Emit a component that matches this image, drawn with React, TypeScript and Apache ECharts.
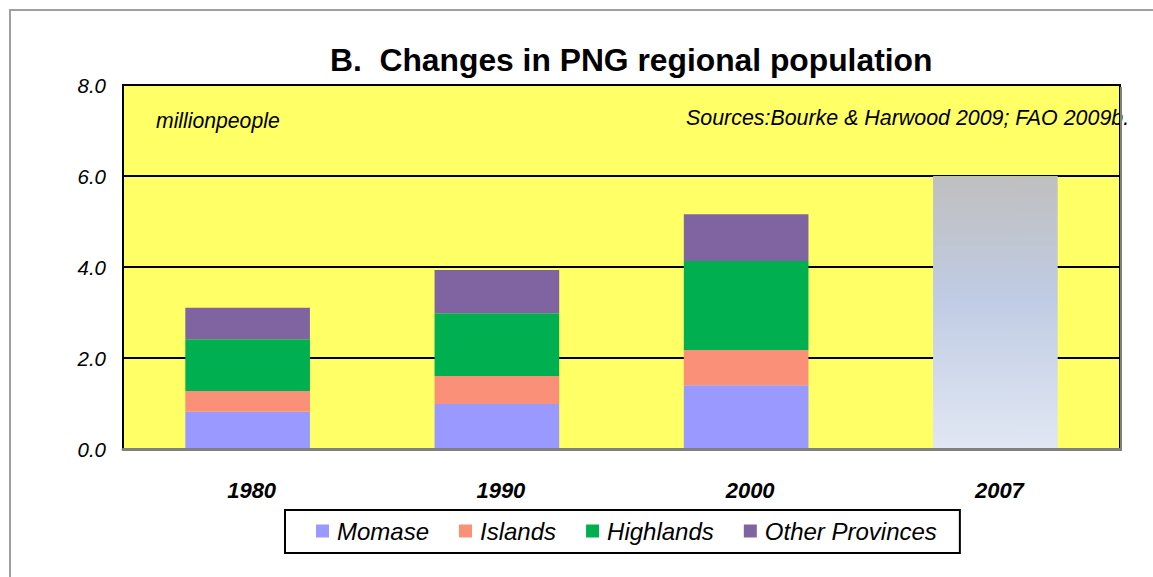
import React, { useEffect, useRef } from "react";
import * as echarts from "echarts";

const categories = ["1980", "1990", "2000", "2007"];
const momase = [0.82, 0.99, 1.4, "-"];
const islands = [0.455, 0.615, 0.776, "-"];
const highlands = [1.135, 1.378, 1.956, "-"];
const otherProvinces = [0.695, 0.952, 1.026, "-"];
const total2007 = ["-", "-", "-", 6.0];
const yTicks = { min: 0, max: 8, interval: 2 };

const FONT = '"Liberation Sans", Arial, sans-serif';

export default function App() {
  const ref = useRef<HTMLDivElement>(null);
  useEffect(() => {
    if (!ref.current) return;
    const chart = echarts.init(ref.current, null, { renderer: "svg" });
    const barBase = { type: "bar", stack: "pop", barWidth: "50%" };
    chart.setOption({
      animation: false,
      backgroundColor: "#ffffff",
      textStyle: { fontFamily: FONT },
      title: {
        text: "B.  Changes in PNG regional population",
        left: 330,
        top: 44,
        padding: 0,
        textStyle: { fontFamily: FONT, fontSize: 31.8, fontWeight: "bold", color: "#000" },
      },
      grid: {
        left: 123,
        right: 33,
        top: 85,
        bottom: 128,
        show: true,
        backgroundColor: "#FFFF66",
        borderColor: "#000",
        borderWidth: 2,
      },
      legend: {
        data: ["Momase", "Islands", "Highlands", "Other Provinces"],
        left: 285,
        top: 510,
        padding: [6, 23, 7, 31],
        itemWidth: 13,
        itemHeight: 13,
        itemGap: 30,
        icon: "rect",
        borderColor: "#000",
        borderWidth: 2,
        backgroundColor: "#fff",
        textStyle: {
          fontFamily: FONT,
          fontSize: 24,
          lineHeight: 24,
          fontStyle: "italic",
          color: "#000",
          padding: [6, 0, 0, 3],
        },
      },
      xAxis: {
        type: "category",
        data: categories,
        axisLine: { show: true, lineStyle: { color: "#808080", width: 3 } },
        axisTick: { show: false },
        axisLabel: {
          margin: 30,
          fontFamily: FONT,
          fontSize: 22,
          fontWeight: "bold",
          fontStyle: "italic",
          color: "#000",
          padding: [0, 0, 0, 8],
        },
        z: 5,
      },
      yAxis: {
        type: "value",
        min: yTicks.min,
        max: yTicks.max,
        interval: yTicks.interval,
        axisLine: { show: false },
        axisTick: { show: false },
        splitLine: { show: true, lineStyle: { color: "#000", width: 2 } },
        axisLabel: {
          margin: 17,
          fontFamily: FONT,
          fontSize: 20.5,
          fontStyle: "italic",
          color: "#000",
          padding: [6, 0, 0, 0],
          formatter: (v: number) => v.toFixed(1),
        },
      },
      series: [
        { ...barBase, name: "Momase", data: momase, itemStyle: { color: "#9999FF" } },
        { ...barBase, name: "Islands", data: islands, itemStyle: { color: "#F99077" } },
        { ...barBase, name: "Highlands", data: highlands, itemStyle: { color: "#00B050" } },
        { ...barBase, name: "Other Provinces", data: otherProvinces, itemStyle: { color: "#8064A2" } },
        {
          ...barBase,
          name: "Total",
          data: total2007,
          itemStyle: {
            color: new echarts.graphic.LinearGradient(0, 0, 0, 1, [
              { offset: 0, color: "#BFBFBF" },
              { offset: 0.45, color: "#C0CCE4" },
              { offset: 1, color: "#E1E7F3" },
            ]),
          },
        },
      ],
      graphic: [
        {
          type: "rect",
          shape: { x: 10, y: 10, width: 1300, height: 700 },
          style: { fill: "none", stroke: "#A0A0A0", lineWidth: 2 },
          silent: true,
        },
        {
          type: "line",
          shape: { x1: 1121, y1: 87, x2: 1121, y2: 451 },
          style: { stroke: "#808080", lineWidth: 2 },
          silent: true,
          z: 20,
        },
        {
          type: "text",
          x: 156,
          y: 120,
          style: {
            text: "millionpeople",
            font: `italic 21.2px ${FONT}`,
            fill: "#000",
            verticalAlign: "middle",
          },
          z: 10,
        },
        {
          type: "text",
          x: 686,
          y: 118,
          style: {
            text: "Sources:Bourke & Harwood 2009; FAO 2009b.",
            font: `italic 21.4px ${FONT}`,
            fill: "#000",
            verticalAlign: "middle",
          },
          z: 10,
        },
      ],
    });
    return () => chart.dispose();
  }, []);
  return (
    <div
      ref={ref}
      style={{ position: "fixed", left: 0, top: 0, width: 1153, height: 577 }}
    />
  );
}
